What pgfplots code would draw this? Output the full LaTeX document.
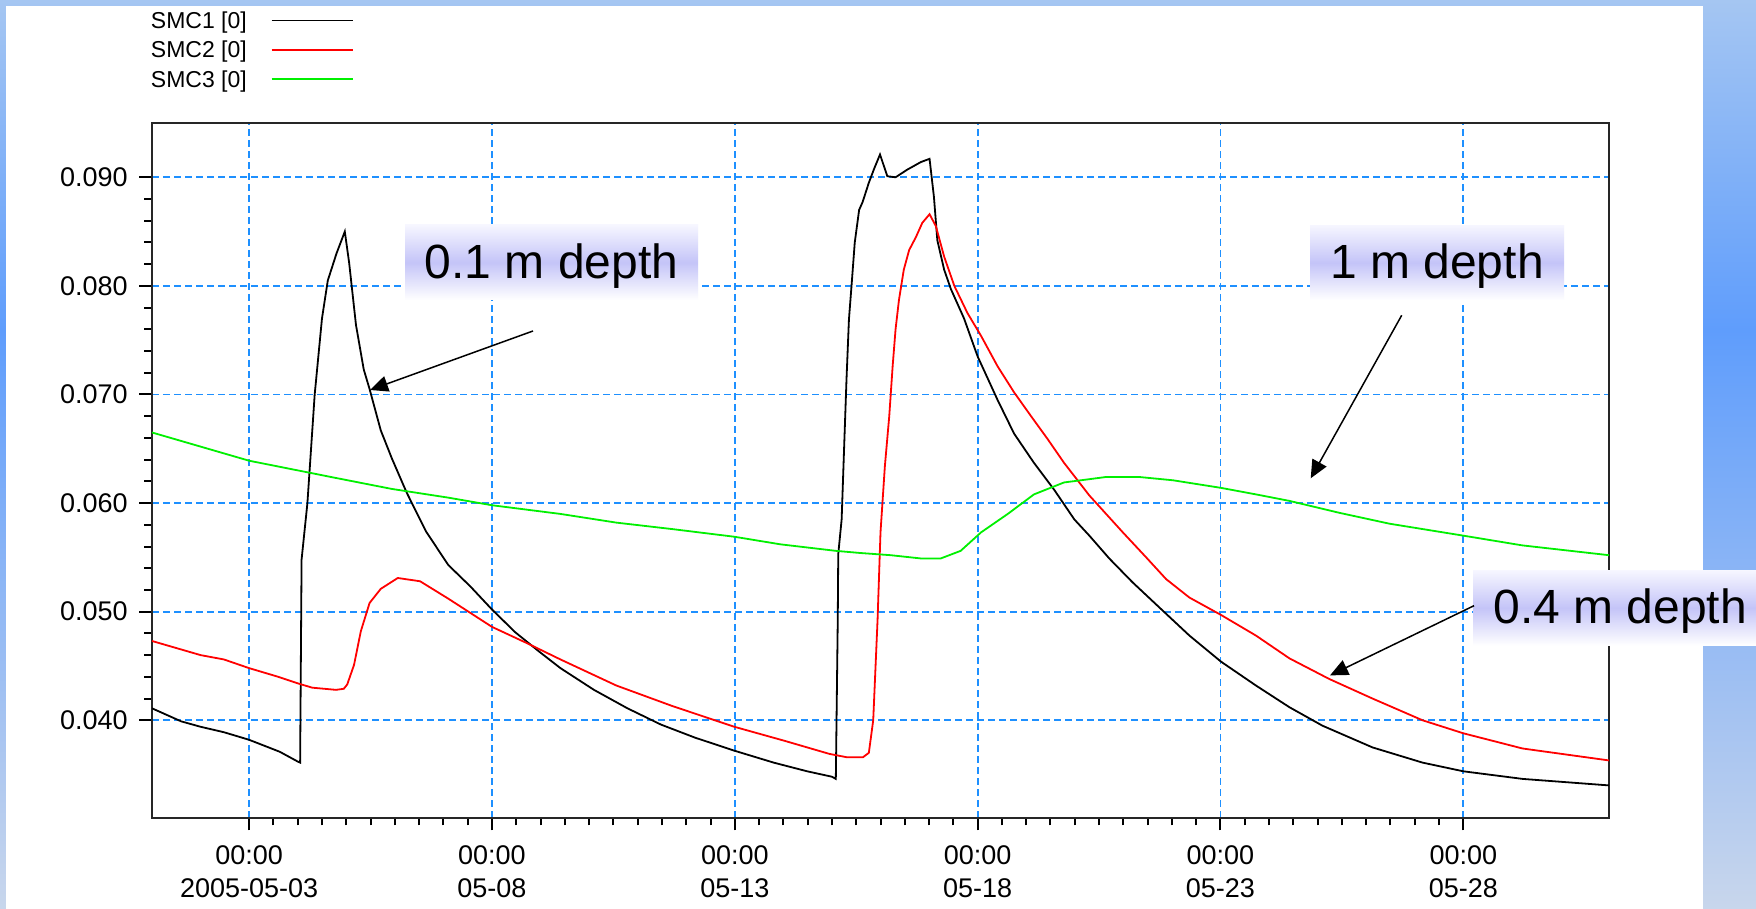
\documentclass[border=0pt]{standalone}
\usepackage{fontspec}
\setmainfont{Liberation Sans}
\usepackage{pgfplots}
\pgfplotsset{compat=1.18}
\usetikzlibrary{arrows.meta}

\definecolor{gridblue}{RGB}{30,144,255}
\definecolor{smcred}{RGB}{255,0,0}
\definecolor{smcgreen}{RGB}{0,240,0}
\definecolor{bgtop}{RGB}{165,198,242}
\definecolor{bgmid}{RGB}{95,157,252}
\definecolor{bgbot}{RGB}{200,214,236}
\definecolor{boxmid}{RGB}{196,196,248}
\definecolor{boxtop}{RGB}{246,246,255}

% soil moisture content, x = day of May 2005
\pgfplotstableread{
day smc
1.00 0.0411
1.20 0.0407
1.60 0.0399
2.00 0.0394
2.48 0.0389
3.00 0.0382
3.63 0.0371
4.00 0.0362
4.05 0.0361
4.08 0.0548
4.20 0.0600
4.35 0.0700
4.50 0.0770
4.62 0.0805
4.80 0.0830
4.97 0.0850
5.06 0.0821
5.20 0.0764
5.36 0.0723
5.48 0.0705
5.71 0.0667
5.94 0.0641
6.24 0.0610
6.64 0.0574
7.10 0.0543
7.56 0.0523
8.00 0.0502
8.48 0.0481
8.95 0.0464
9.41 0.0448
10.10 0.0428
10.79 0.0411
11.48 0.0396
12.18 0.0384
12.99 0.0372
13.80 0.0361
14.49 0.0353
15.00 0.0348
15.08 0.0346
15.12 0.0493
15.13 0.0553
15.20 0.0585
15.25 0.0650
15.30 0.0714
15.35 0.0769
15.41 0.0804
15.47 0.0840
15.56 0.0870
15.63 0.0877
15.76 0.0895
15.87 0.0908
15.99 0.0921
16.14 0.0901
16.31 0.0900
16.55 0.0907
16.83 0.0914
17.01 0.0917
17.10 0.0882
17.17 0.0842
17.31 0.0815
17.45 0.0797
17.72 0.0770
18.00 0.0735
18.41 0.0695
18.75 0.0664
19.16 0.0637
19.58 0.0612
19.99 0.0585
20.30 0.0570
20.71 0.0549
21.19 0.0527
21.81 0.0501
22.36 0.0478
23.01 0.0454
23.73 0.0432
24.42 0.0412
25.10 0.0395
26.13 0.0375
27.16 0.0361
28.00 0.0353
29.22 0.0346
31.00 0.0340
}\smcone

\pgfplotstableread{
day smc
1.00 0.0473
2.00 0.0460
2.48 0.0456
3.00 0.0448
3.60 0.0440
4.00 0.0434
4.30 0.0430
4.79 0.0428
4.95 0.0429
5.02 0.0433
5.16 0.0451
5.30 0.0482
5.48 0.0508
5.71 0.0521
6.06 0.0531
6.52 0.0528
7.10 0.0512
8.00 0.0486
8.72 0.0471
9.41 0.0456
10.56 0.0432
11.72 0.0413
12.99 0.0394
14.03 0.0381
14.95 0.0369
15.30 0.0366
15.64 0.0366
15.76 0.0370
15.85 0.0400
15.94 0.0493
16.00 0.0573
16.09 0.0634
16.18 0.0680
16.25 0.0726
16.31 0.0760
16.38 0.0787
16.48 0.0815
16.59 0.0833
16.73 0.0845
16.86 0.0858
17.01 0.0866
17.14 0.0855
17.31 0.0827
17.52 0.0800
17.79 0.0775
18.07 0.0754
18.41 0.0726
18.75 0.0702
19.10 0.0680
19.44 0.0659
19.78 0.0637
20.30 0.0607
20.99 0.0573
21.47 0.0550
21.88 0.0530
22.36 0.0513
23.01 0.0497
23.73 0.0478
24.42 0.0457
25.24 0.0438
26.13 0.0420
27.16 0.0400
28.00 0.0388
29.22 0.0374
31.00 0.0363
}\smctwo

\pgfplotstableread{
day smc
1.00 0.0665
2.00 0.0652
3.00 0.0639
4.80 0.0623
5.94 0.0613
7.10 0.0605
8.00 0.0598
9.41 0.0590
10.56 0.0582
11.72 0.0576
12.99 0.0569
13.94 0.0562
15.08 0.0556
15.59 0.0554
16.21 0.0552
16.83 0.0549
17.24 0.0549
17.65 0.0556
18.07 0.0573
18.62 0.0590
19.16 0.0608
19.78 0.0619
20.30 0.0622
20.64 0.0624
21.33 0.0624
22.02 0.0621
23.01 0.0614
23.73 0.0608
24.42 0.0602
25.45 0.0591
26.48 0.0581
28.00 0.0570
29.22 0.0561
31.00 0.0552
}\smcthree

\begin{document}
\begin{tikzpicture}
\useasboundingbox (0pt,0pt) rectangle (878pt,454.5pt);
% slide backdrop and white panel
\shade[top color=bgtop, bottom color=bgmid] (0pt,289.5pt) rectangle (878pt,454.5pt);
\shade[top color=bgmid, bottom color=bgbot] (0pt,0pt) rectangle (878pt,289.5pt);
\fill[white] (3pt,0pt) rectangle (851.5pt,451.5pt);

\begin{axis}[
  at={(76pt,45.5pt)}, anchor=south west,
  scale only axis, width=728.5pt, height=347.5pt,
  xmin=1, xmax=31, ymin=0.031, ymax=0.095,
  xtick={3,8,13,18,23,28},
  xticklabels={{00:00\\2005-05-03},{00:00\\05-08},{00:00\\05-13},{00:00\\05-18},{00:00\\05-23},{00:00\\05-28}},
  minor x tick num=9,
  ytick={0.04,0.05,0.06,0.07,0.08,0.09},
  minor y tick num=4,
  scaled y ticks=false,
  /pgf/number format/assume math mode=true,
  tick label style={font=\fontsize{13.5}{16.5}\selectfont, inner sep=0pt},
  xticklabel style={align=center, anchor=north, yshift=-7.25pt},
  yticklabel style={anchor=east, xshift=-5.75pt,
    /pgf/number format/fixed, /pgf/number format/fixed zerofill,
    /pgf/number format/precision=3},
  tick pos=left, tick align=outside,
  major tick length=6.25pt, minor tick length=3.75pt,
  every tick/.style={black, line width=1pt},
  axis line style={black!85, line width=1.3pt},
  grid=major,
  major grid style={gridblue, line width=0.9pt, dash pattern=on 3.5pt off 2pt},
  legend plot pos=right,
  legend cell align=left,
  legend image code/.code={\draw[#1] (0pt,1.35pt) -- (40.5pt,1.35pt);},
  legend style={at={(axis description cs:-0.0007,1.1587)}, anchor=north west,
    draw=none, fill=none, inner sep=0pt, outer sep=0pt,
    row sep=4.15pt, column sep=12pt,
    font=\fontsize{11.5}{12}\selectfont,
    nodes={inner sep=0pt, text height=8pt, text depth=2.5pt}},
]
\addplot[black, line width=0.9pt] table[x=day, y=smc] {\smcone};
\addlegendentry{SMC1 [0]}
\addplot[smcred, line width=0.9pt] table[x=day, y=smc] {\smctwo};
\addlegendentry{SMC2 [0]}
\addplot[smcgreen, line width=0.9pt] table[x=day, y=smc] {\smcthree};
\addlegendentry{SMC3 [0]}
\end{axis}

% depth call-outs
\tikzset{callout/.style={top color=boxtop, bottom color=white, middle color=boxmid,
    inner sep=0pt, minimum height=37.5pt, text height=17.5pt, text depth=1.8pt,
    font=\fontsize{24}{24}\selectfont},
  pointer/.style={line width=0.75pt, -{Triangle[length=9pt,width=8pt]}}}
\node[callout, minimum width=146.5pt] at (275.75pt,323.25pt) {0.1 m depth};
\node[callout, minimum width=127pt] at (718.5pt,323.1pt) {1 m depth};
\node[callout, anchor=west, inner xsep=10.15pt] at (736.35pt,150.5pt) {0.4 m depth};
\draw[pointer] (266.5pt,289pt) -- (185pt,259.5pt);
\draw[pointer] (700.85pt,296.85pt) -- (655.35pt,215.35pt);
\draw[pointer] (737pt,151.65pt) -- (665pt,116.8pt);
\end{tikzpicture}
\end{document}
